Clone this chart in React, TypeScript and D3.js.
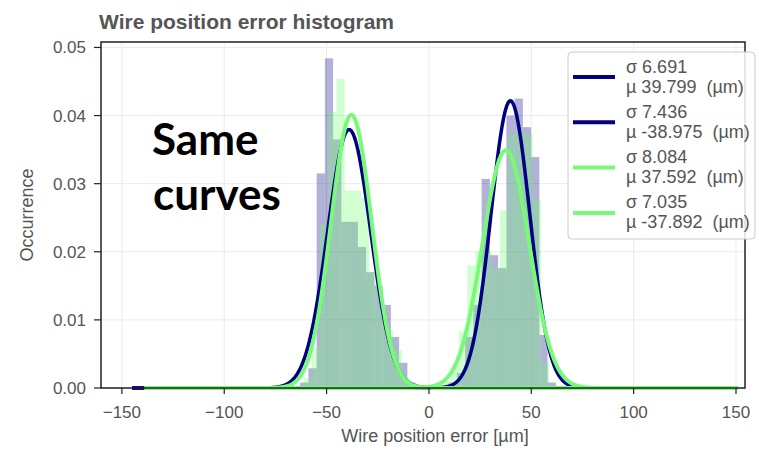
import React from "react";
import * as d3 from "d3";

// ---- data ----
const xTicks = [-150, -100, -50, 0, 50, 100, 150];
const yTicks = [0, 0.01, 0.02, 0.03, 0.04, 0.05];

// histogram 1 (navy) : first bin edge, bin width, heights
const blueStart = -62.92;
const blueWidth = 4.03;
const blueHeights = [
  0.0008, 0.0029, 0.0315, 0.0484, 0.0365, 0.0244, 0.0244, 0.0207, 0.017, 0.015,
  0.0122, 0.0075, 0.0037, 0.0008, 0, 0, 0, 0, 0.0008, 0.0022,
  0.0075, 0.0122, 0.0307, 0.0195, 0.0176, 0.04, 0.0425, 0.0383, 0.0339, 0.0078,
  0.0008,
];

// histogram 2 (light green)
const greenStart = -61.175;
const greenWidth = 3.995;
const greenHeights = [
  0.0015, 0.006, 0.024, 0.0405, 0.0454, 0.029, 0.029, 0.028, 0.017, 0.0118,
  0.0085, 0.0056, 0.0015, 0, 0, 0, 0, 0.001, 0.003, 0.0083,
  0.018, 0.02, 0.02, 0.0176, 0.0261, 0.0374, 0.0378, 0.0373, 0.0276, 0.0037,
];

// fitted curves (legend values); plotted curves have variance 2σ²
const curveSigma = [6.691, 7.436, 8.084, 7.035];
const curveMu = [39.799, -38.975, 37.592, -37.892];
const curveFrom = [-145, -145, -139, -139];
const curveTo = [150, 150, 151, 151];
const curveColor = ["#000080", "#000080", "#77fa77", "#77fa77"];

const W = 759;
const H = 450;
const left = 101, right = 745, top = 42, bottom = 388;
const font = "'Liberation Sans', Arial, sans-serif";
const gray = "#555";

export default function App() {
  const x = d3.scaleLinear().domain([-160.2, 154.4]).range([left, right]);
  const y = d3.scaleLinear().domain([0, 0.0508]).range([bottom, top]);

  const line = d3
    .line<[number, number]>()
    .x((d) => x(d[0]))
    .y((d) => y(d[1]))
    .curve(d3.curveLinear);

  const curves = curveMu.map((mu, i) => {
    const s = curveSigma[i] * Math.SQRT2;
    const peak = 1 / (s * Math.sqrt(2 * Math.PI));
    const pts: [number, number][] = d3
      .range(curveFrom[i], curveTo[i] + 0.001, 0.25)
      .map((v) => [v, peak * Math.exp(-((v - mu) ** 2) / (2 * s * s))]);
    return line(pts) || "";
  });

  const bars = (start: number, w: number, hs: number[]) =>
    hs.map((h, i) => {
      if (h <= 0) return null;
      const x0 = x(start + i * w);
      const x1 = x(start + (i + 1) * w);
      return { x: x0, w: x1 - x0, y: y(h), h: y(0) - y(h), key: i };
    }).filter(Boolean) as { x: number; w: number; y: number; h: number; key: number }[];

  const blueBars = bars(blueStart, blueWidth, blueHeights);
  const greenBars = bars(greenStart, greenWidth, greenHeights);

  const legendX = 568, legendY = 52, legendEntryH = 45.3;
  const legendTexts = curveMu.map((mu, i) => [
    `σ ${curveSigma[i].toFixed(3)}`,
    `µ ${mu.toFixed(3)}  (µm)`,
  ]);

  return (
    <svg
      width={W}
      height={H}
      style={{ position: "absolute", left: 0, top: 0, background: "#fff" }}
      fontFamily={font}
    >
      <rect x={0} y={0} width={W} height={H} fill="#fff" />
      {/* grid */}
      {xTicks.map((t) => (
        <line key={"gx" + t} x1={x(t)} x2={x(t)} y1={top} y2={bottom} stroke="#ebebeb" strokeWidth={1} />
      ))}
      {yTicks.map((t) => (
        <line key={"gy" + t} x1={left} x2={right} y1={y(t)} y2={y(t)} stroke="#ebebeb" strokeWidth={1} />
      ))}
      {/* histograms */}
      {blueBars.map((b) => (
        <rect key={"b" + b.key} x={b.x} y={b.y} width={b.w} height={b.h} fill="#000080" fillOpacity={0.3} />
      ))}
      {greenBars.map((b) => (
        <rect key={"g" + b.key} x={b.x} y={b.y} width={b.w} height={b.h} fill="#66ff66" fillOpacity={0.3} />
      ))}
      {/* curves */}
      {curves.map((d, i) => (
        <path key={"c" + i} d={d} fill="none" stroke={curveColor[i]} strokeWidth={i < 2 ? 3.5 : 4} strokeLinejoin="round" />
      ))}
      {/* frame */}
      <rect x={left} y={top} width={right - left} height={bottom - top} fill="none" stroke="#222" strokeWidth={1.5} />
      {/* x ticks */}
      {xTicks.map((t) => (
        <g key={"xt" + t}>
          <line x1={x(t)} x2={x(t)} y1={bottom} y2={bottom + 6} stroke="#222" strokeWidth={1.2} />
          <text x={x(t)} y={418} textAnchor="middle" fontSize={17} fill={gray}>
            {t < 0 ? "\u2212" + Math.abs(t) : String(t)}
          </text>
        </g>
      ))}
      {/* y ticks */}
      {yTicks.map((t) => (
        <g key={"yt" + t}>
          <line x1={left - 7} x2={left} y1={y(t)} y2={y(t)} stroke="#222" strokeWidth={1.2} />
          <text x={86} y={y(t) + 6} textAnchor="end" fontSize={17} fill={gray}>
            {t.toFixed(2)}
          </text>
        </g>
      ))}
      {/* axis labels */}
      <text x={(left + right) / 2 + 12} y={442} textAnchor="middle" fontSize={18} fill={gray}>
        Wire position error [µm]
      </text>
      <text transform={`translate(33,215) rotate(-90)`} textAnchor="middle" fontSize={18} fill={gray}>
        Occurrence
      </text>
      {/* title */}
      <text x={99} y={29} fontSize={21} fontWeight="bold" fill={gray}>
        Wire position error histogram
      </text>
      {/* legend */}
      <rect x={legendX} y={legendY} width={187} height={187} rx={4} fill="#fff" fillOpacity={0.85} stroke="#ccc" strokeWidth={1} />
      {legendTexts.map((lines, i) => {
        const cy = legendY + 25 + i * legendEntryH;
        return (
          <g key={"lg" + i}>
            <line x1={573} x2={615} y1={cy} y2={cy} stroke={curveColor[i]} strokeWidth={4} />
            <text x={626} y={cy - 4.5} fontSize={18} fill={gray} style={{ whiteSpace: "pre" }}>
              {lines[0]}
            </text>
            <text x={626} y={cy + 15.5} fontSize={18} fill={gray} style={{ whiteSpace: "pre" }}>
              {lines[1]}
            </text>
          </g>
        );
      })}
      {/* annotation */}
      <text x={152} y={155} fontSize={44} fontWeight="bold" fill="#000" fontFamily="Lato, 'Open Sans', sans-serif">
        Same
      </text>
      <text x={153} y={210} fontSize={44} fontWeight="bold" fill="#000" fontFamily="Lato, 'Open Sans', sans-serif">
        curves
      </text>
    </svg>
  );
}
